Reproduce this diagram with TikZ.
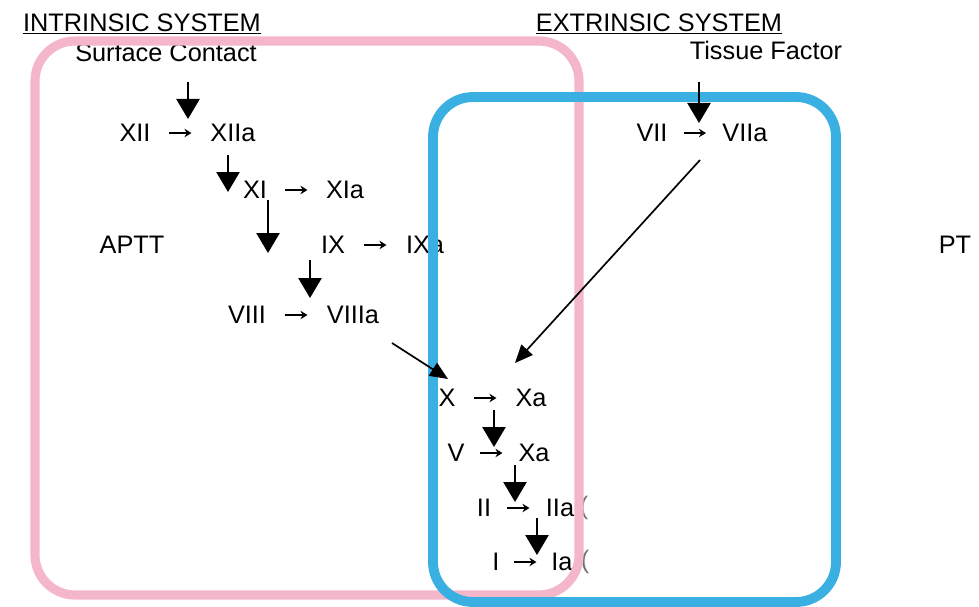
\documentclass[tikz,border=0pt]{standalone}
\usepackage{fontspec}
\setmainfont{Liberation Sans}
\usetikzlibrary{arrows.meta,calc}
\definecolor{intpink}{RGB}{244,182,202}
\definecolor{extblue}{RGB}{58,176,226}

\begin{document}
\begin{tikzpicture}[x=0.025cm,y=-0.025cm,
  every node/.style={font=\fontsize{18}{21}\selectfont, inner sep=0pt},
  conv/.style={-{Stealth[length=5pt,width=6pt]}, line width=0.8pt},
  cascade/.style={-{Triangle[length=0.5cm,width=0.58cm]}, line width=1.3pt},
  feed/.style={-{Triangle[length=0.45cm,width=0.38cm]}, line width=1.2pt},
  system/.style={rounded corners=1cm}]
\useasboundingbox (0,0) rectangle (979,606);

% headings
\node[anchor=base] (intr) at (142,31) {\underline{INTRINSIC SYSTEM}};
\node[anchor=base] (extr) at (659,31) {\underline{EXTRINSIC SYSTEM}};
\node (surf) at (166,52) {Surface Contact};
\node (tiss) at (766,50) {Tissue Factor};
\node (aptt) at (132,245) {APTT};
\node (pt) at (955,245) {PT};

% factors
\node (xii) at (135,133) {XII};
\node (xiia) at (233,133) {XIIa};
\node (xi) at (255,190) {XI};
\node (xia) at (345,190) {XIa};
\node (ix) at (333,245) {IX};
\node (ixa) at (425,245) {IXa};
\node (viii) at (247,315) {VIII};
\node (viiia) at (353,315) {VIIIa};
\node (vii) at (652,133) {VII};
\node (viia) at (745,133) {VIIa};
\node (x) at (447,398) {X};
\node (xa) at (531,398) {Xa};
\node (v) at (456,453) {V};
\node (xa2) at (534,453) {Xa};
\node (ii) at (484,508) {II};
\node (iia) at (560,508) {IIa};
\node (i) at (496,562) {I};
\node (ia) at (562,562) {Ia};
\node[text=black!55] (p1) at (584,508) {(};
\node[text=black!55] (p2) at (585,562) {(};

% the two systems
\draw[intpink, line width=6.5pt, system] (35,41) rectangle (579,595);
\draw[extblue, line width=7pt, system] (433,97) rectangle (836,602);

% activation arrows, 22px long, centred in each gap
\foreach \a/\b in {xii/xiia, xi/xia, ix/ixa, viii/viiia, vii/viia,
                   x/xa, v/xa2, ii/iia, i/ia}
  \draw[conv] ($(\a.east)!0.5!(\b.west)-(11,0)$) -- ($(\a.east)!0.5!(\b.west)+(11,0)$);

% cascade steps
\coordinate (c1) at (188,82);  \coordinate (d1) at (188,119);
\coordinate (c2) at (228,155); \coordinate (d2) at (228,192);
\coordinate (c3) at (268,200); \coordinate (d3) at (268,253);
\coordinate (c4) at (310,260); \coordinate (d4) at (310,298);
\coordinate (c5) at (699,82);  \coordinate (d5) at (699,123);
\coordinate (c6) at (494,410); \coordinate (d6) at (494,447);
\coordinate (c7) at (515,465); \coordinate (d7) at (515,502);
\coordinate (c8) at (537,518); \coordinate (d8) at (537,555);
\foreach \n in {1,...,8}
  \draw[cascade] (c\n) -- (d\n);

% into X
\coordinate (f1) at (392,343); \coordinate (g1) at (448,379);
\coordinate (f2) at (700,160); \coordinate (g2) at (515,363);
\draw[feed] (f1) -- (g1);
\draw[feed] (f2) -- (g2);
\end{tikzpicture}
\end{document}
